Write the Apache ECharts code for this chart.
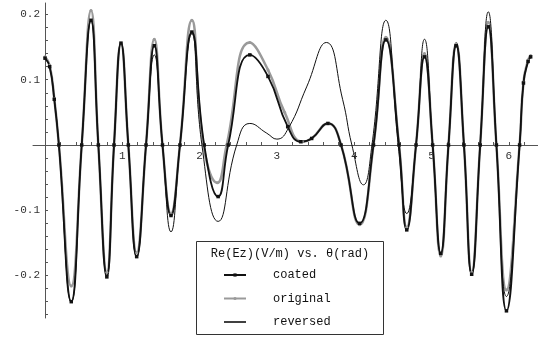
<!DOCTYPE html>
<html>
<head>
    <meta charset="utf-8">
    <title></title>
    <script src="https://cdn.jsdelivr.net/npm/echarts@6.0.0/dist/echarts.min.js"></script>
</head>
<body style="margin:0;background:#fff">
<div id="main" style="width:538px;height:339px"></div>
<script type="text/javascript">
    // coated (black line, square markers)
    var coatedX = [0, 0.06, 0.12, 0.18, 0.34, 0.475, 0.595, 0.69, 0.80, 0.893, 0.983, 1.078, 1.186, 1.307, 1.414, 1.52, 1.63, 1.746, 1.90,
        2.06, 2.24, 2.37, 2.65, 2.885, 3.14, 3.31, 3.45, 3.66, 3.83, 4.07, 4.25, 4.41, 4.58, 4.68, 4.80, 4.91, 5.015, 5.12,
        5.22, 5.32, 5.42, 5.52, 5.63, 5.735, 5.84, 5.97, 6.14, 6.19, 6.25, 6.283];
    var coatedY = [0.133, 0.120, 0.070, 0, -0.240, 0, 0.191, 0, -0.202, 0, 0.156, 0, -0.171, 0, 0.152, 0, -0.108, 0, 0.173,
        0, -0.079, 0, 0.138, 0.105, 0.028, 0.005, 0.010, 0.033, 0, -0.120, 0, 0.161, 0, -0.130, 0, 0.135, 0, -0.166,
        0, 0.152, 0, -0.198, 0, 0.181, 0, -0.254, 0, 0.095, 0.128, 0.135];
    // original (gray line, dot markers)
    var originalX = [0, 0.06, 0.12, 0.18, 0.34, 0.475, 0.595, 0.69, 0.80, 0.893, 0.983, 1.078, 1.186, 1.307, 1.414, 1.52, 1.63, 1.746, 1.90,
        2.05, 2.23, 2.35, 2.65, 2.885, 3.10, 3.33, 3.45, 3.66, 3.83, 4.07, 4.25, 4.41, 4.58, 4.68, 4.80, 4.91, 5.015, 5.12,
        5.22, 5.32, 5.42, 5.52, 5.63, 5.735, 5.84, 5.97, 6.14, 6.19, 6.25, 6.283];
    var originalY = [0.135, 0.122, 0.071, 0, -0.216, 0, 0.206, 0, -0.195, 0, 0.156, 0, -0.165, 0, 0.162, 0, -0.105, 0, 0.191,
        0, -0.058, 0, 0.157, 0.115, 0.050, 0.005, 0.010, 0.033, 0, -0.122, 0, 0.165, 0, -0.126, 0, 0.140, 0, -0.170,
        0, 0.155, 0, -0.195, 0, 0.188, 0, -0.222, 0, 0.096, 0.130, 0.137];
    // reversed (thin black line)
    var reversedX = [0, 0.06, 0.12, 0.18, 0.34, 0.475, 0.595, 0.69, 0.80, 0.893, 0.983, 1.078, 1.186, 1.307, 1.414, 1.52, 1.63, 1.746, 1.90,
        2.03, 2.24, 2.48, 2.65, 2.87, 3.0, 3.15, 3.385, 3.64, 3.85, 3.97, 4.12, 4.23, 4.41, 4.57, 4.68, 4.80, 4.91, 5.015, 5.12,
        5.22, 5.32, 5.42, 5.52, 5.63, 5.735, 5.84, 5.97, 6.14, 6.19, 6.25, 6.283];
    var reversedY = [0.133, 0.120, 0.070, 0, -0.240, 0, 0.190, 0, -0.200, 0, 0.156, 0, -0.171, 0, 0.138, 0, -0.133, 0, 0.170,
        0, -0.117, 0, 0.033, 0.018, 0.009, 0.026, 0.089, 0.157, 0.070, 0, -0.061, 0, 0.191, 0, -0.105, 0, 0.162, 0, -0.166,
        0, 0.157, 0, -0.198, 0, 0.204, 0, -0.232, 0, 0.095, 0.128, 0.135];

    var xTicks = [0.2, 0.4, 0.6, 0.8, 1, 1.2, 1.4, 1.6, 1.8, 2, 2.2, 2.4, 2.6, 2.8, 3, 3.2, 3.4, 3.6, 3.8, 4,
        4.2, 4.4, 4.6, 4.8, 5, 5.2, 5.4, 5.6, 5.8, 6, 6.2];
    var xLabels = [1, 2, 3, 4, 5, 6];
    var yTicks = [-0.26, -0.24, -0.22, -0.2, -0.18, -0.16, -0.14, -0.12, -0.1, -0.08, -0.06, -0.04, -0.02,
        0.02, 0.04, 0.06, 0.08, 0.1, 0.12, 0.14, 0.16, 0.18, 0.2];
    var yLabels = [-0.2, -0.1, 0.1, 0.2];

    function pairs(xs, ys) {
        var out = [];
        for (var i = 0; i < xs.length; i++) out.push([xs[i], ys[i]]);
        return out;
    }

    var mono = 'Liberation Mono';
    var axisColor = '#555';
    var myChart = echarts.init(document.getElementById('main'));
    myChart.setOption({
        animation: false,
        // grid 0: upper half only, its bottom edge is the y = 0 line (carries the theta axis)
        // grid 1: full plot, holds the curves and the value axis
        grid: [
            {left: 33, right: 0, top: 3, bottom: 194},
            {left: 45, right: 0, top: 3, bottom: 21}
        ],
        xAxis: [
            {
                type: 'value', gridIndex: 0, min: -0.155, max: 6.378,
                splitLine: {show: false},
                axisLine: {onZero: false, lineStyle: {color: axisColor, width: 1}},
                axisTick: {inside: true, length: 3, customValues: xTicks, lineStyle: {color: axisColor}},
                axisLabel: {customValues: xLabels, margin: 6, color: '#333', fontFamily: mono, fontSize: 11}
            },
            {type: 'value', gridIndex: 1, min: 0, max: 6.378, show: false}
        ],
        yAxis: [
            {type: 'value', gridIndex: 0, min: 0, max: 1, show: false},
            {
                type: 'value', gridIndex: 1, min: -0.265, max: 0.2175,
                splitLine: {show: false},
                axisLine: {onZero: false, lineStyle: {color: axisColor, width: 1}},
                axisTick: {inside: true, length: 3, customValues: yTicks, lineStyle: {color: axisColor}},
                axisLabel: {
                    customValues: yLabels, margin: 5, color: '#333', fontFamily: mono, fontSize: 11,
                    formatter: function (v) { return v.toFixed(1); }
                }
            }
        ],
        legend: {
            data: ['coated', 'original',
                {name: 'reversed', icon: 'path://M0,0H44V3H0Z', itemStyle: {color: '#000'}}],
            orient: 'vertical', left: 223, top: 269, padding: 0,
            itemWidth: 22, itemHeight: 4, itemGap: 11.5, symbolKeepAspect: true,
            textStyle: {fontFamily: mono, fontSize: 12, color: '#111', padding: [0, 0, 0, 22]}
        },
        graphic: [
            {type: 'rect', z: 1, shape: {x: 196.5, y: 241.5, width: 187, height: 93},
                style: {fill: '#fff', stroke: '#333', lineWidth: 1}},
            {type: 'text', z: 5, x: 290, y: 254,
                style: {text: 'Re(Ez)(V/m) vs. \u03b8(rad)', font: '12px "Liberation Mono"', fill: '#111',
                    textAlign: 'center', textVerticalAlign: 'middle'}}
        ],
        series: [
            {
                name: 'original', type: 'line', xAxisIndex: 1, yAxisIndex: 1, smooth: 0.5,
                data: pairs(originalX, originalY),
                symbol: 'circle', symbolSize: 3, showSymbol: true,
                lineStyle: {color: '#9a9a9a', width: 2.5}, itemStyle: {color: '#9a9a9a'}
            },
            {
                name: 'coated', type: 'line', xAxisIndex: 1, yAxisIndex: 1, smooth: 0.5,
                data: pairs(coatedX, coatedY),
                symbol: 'rect', symbolSize: 3.5, showSymbol: true,
                lineStyle: {color: '#111', width: 1.8}, itemStyle: {color: '#111'}
            },
            {
                name: 'reversed', type: 'line', xAxisIndex: 1, yAxisIndex: 1, smooth: 0.5,
                data: pairs(reversedX, reversedY),
                symbol: 'none',
                lineStyle: {color: '#111', width: 1}, itemStyle: {color: '#111'}
            }
        ]
    });
</script>
</body>
</html>
